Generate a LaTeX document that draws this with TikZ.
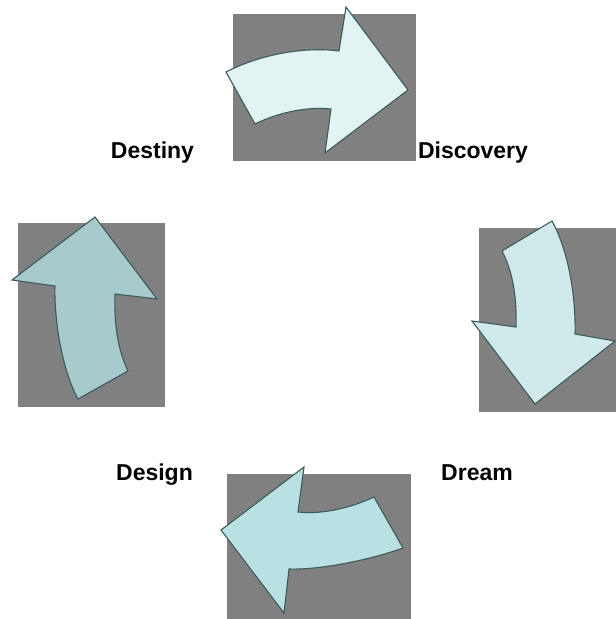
\documentclass[tikz,border=0pt]{standalone}
\usepackage{fontspec}
\setmainfont{Liberation Sans}
\definecolor{boxgray}{HTML}{808080}
\definecolor{edgec}{HTML}{3D5A5B}
\definecolor{fa}{HTML}{E2F3F3}
\definecolor{fb}{HTML}{D0E9EA}
\definecolor{fc}{HTML}{B9E0E3}
\definecolor{fd}{HTML}{A7CACC}
\begin{document}
\begin{tikzpicture}[x=1pt,y=-1pt,
  box/.style={fill=boxgray,draw=none},
  arr/.style={draw=edgec,line width=1.1pt,line join=miter},
  lbl/.style={font=\bfseries\fontsize{23}{27}\selectfont,anchor=base,inner sep=0pt}]
\useasboundingbox (0,0) rectangle (616,619);
% gray boxes
\fill[box] (233,14) rectangle (416,161);
\fill[box] (479,228) rectangle (616,412);
\fill[box] (227,474) rectangle (411,619);
\fill[box] (18,223) rectangle (165,407);
% top arrow
\draw[arr,fill=fa] (226,72) -- (255,124) .. controls (275,114) and (305,106) .. (331,109)
  -- (325,153) -- (408,90) -- (346,7) -- (339,51)
  .. controls (310,47) and (265,52) .. (226,72) -- cycle;
% right arrow
\draw[arr,fill=fb] (552,221) -- (502,251) .. controls (512,270) and (517,295) .. (516,327)
  -- (472,321) -- (535,404) -- (615,341) -- (575,334)
  .. controls (576,295) and (568,250) .. (552,221) -- cycle;
% bottom arrow
\draw[arr,fill=fc] (374,497) -- (403,548) .. controls (370,560) and (320,570) .. (289,569)
  -- (284,613) -- (221,530) -- (304,467) -- (298,512)
  .. controls (325,515) and (355,506) .. (374,497) -- cycle;
% left arrow
\draw[arr,fill=fd] (128,371) -- (78,399) .. controls (62,370) and (54,320) .. (55,286)
  -- (12,280) -- (95,217) -- (157,299) -- (115,294)
  .. controls (114,325) and (118,350) .. (128,371) -- cycle;
% labels
\node[lbl] (destiny) at (152.5,158) {Destiny};
\node[lbl] (discovery) at (473,158) {Discovery};
\node[lbl] (design) at (154.5,480) {Design};
\node[lbl] (dream) at (477,480) {Dream};
\end{tikzpicture}
\end{document}
